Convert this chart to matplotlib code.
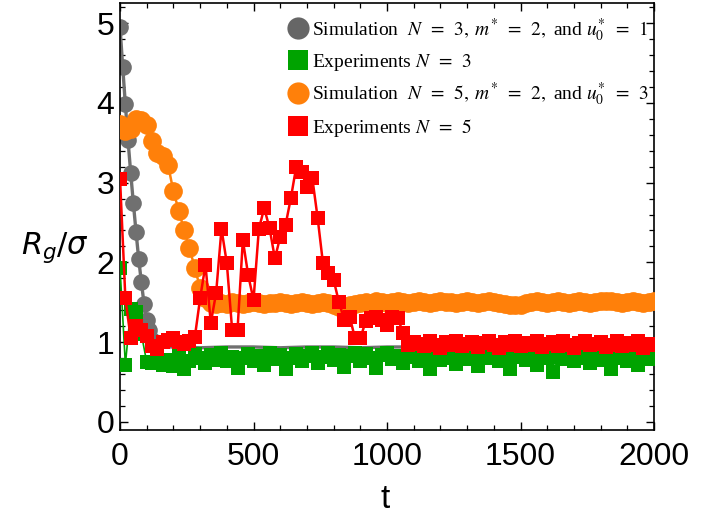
import numpy as np
import matplotlib
matplotlib.use("Agg")
import matplotlib.pyplot as plt
from matplotlib.lines import Line2D
from matplotlib.font_manager import FontProperties
from matplotlib.ticker import MultipleLocator

# --- data ---
# simulation N=3 (markers only on the early decay)
sim3_t = [0, 10, 20, 30, 40, 50, 60, 70, 80, 90, 100, 110, 120, 130,
          150, 200, 300, 400, 500, 600, 700, 800, 900, 1000,
          1100, 1200, 1300, 1400, 1500, 1600, 1700, 1800, 1900, 2000]
sim3_r = [4.95, 4.45, 3.98, 3.53, 3.12, 2.74, 2.38, 2.04, 1.75, 1.48, 1.28, 1.15, 1.03, 0.96,
          0.94, 0.94, 0.93, 0.94, 0.94, 0.93, 0.94, 0.94, 0.93, 0.94,
          0.94, 0.93, 0.94, 0.94, 0.93, 0.94, 0.94, 0.93, 0.94, 0.94]
sim3_marked = 14

# experiments N=3, every 20 time units
exp3_t = np.arange(0, 2001, 20)
exp3_r = [1.93, 0.72, 1.42, 1.38, 1.1, 0.75, 0.74, 0.8, 0.72, 0.78,
          0.7, 0.83, 0.67, 0.77, 0.85, 0.8, 0.74, 0.84, 0.78, 0.86,
          0.76, 0.82, 0.68, 0.8, 0.85, 0.77, 0.83, 0.72, 0.86, 0.79,
          0.84, 0.66, 0.8, 0.85, 0.76, 0.83, 0.87, 0.74, 0.82, 0.86,
          0.78, 0.84, 0.69, 0.83, 0.87, 0.77, 0.85, 0.8, 0.68, 0.84,
          0.86, 0.79, 0.83, 0.74, 0.87, 0.81, 0.76, 0.84, 0.67, 0.82,
          0.78, 0.85, 0.8, 0.73, 0.84, 0.79, 0.86, 0.7, 0.82, 0.8,
          0.84, 0.77, 0.83, 0.66, 0.81, 0.85, 0.78, 0.83, 0.72, 0.84,
          0.8, 0.63, 0.82, 0.79, 0.85, 0.76, 0.83, 0.8, 0.74, 0.84,
          0.78, 0.83, 0.66, 0.8, 0.85, 0.76, 0.83, 0.71, 0.82, 0.79, 0.83]

# simulation N=5, every 20 time units
sim5_t = np.arange(0, 2001, 20)
sim5_r = [3.74, 3.65, 3.67, 3.8, 3.79, 3.72, 3.52, 3.37, 3.33, 3.22,
          2.89, 2.65, 2.4, 2.18, 1.93, 1.68, 1.55, 1.49,
          1.48, 1.49, 1.48, 1.50, 1.49, 1.48, 1.49, 1.50, 1.49, 1.48,
          1.49, 1.49, 1.50, 1.49, 1.48, 1.49, 1.50, 1.49, 1.48, 1.49, 1.50, 1.49,
          1.46, 1.44, 1.45, 1.47, 1.48,
          1.49, 1.50, 1.49, 1.51, 1.50, 1.49, 1.50, 1.51, 1.50, 1.49,
          1.50, 1.51, 1.50, 1.49, 1.50, 1.51, 1.50, 1.50, 1.49, 1.50,
          1.51, 1.50, 1.49, 1.50, 1.51, 1.50, 1.49, 1.48, 1.47, 1.46,
          1.47, 1.49, 1.50, 1.51, 1.50, 1.49, 1.50, 1.51, 1.50, 1.49,
          1.50, 1.51, 1.50, 1.49, 1.50, 1.51, 1.52, 1.51, 1.50, 1.49,
          1.50, 1.51, 1.50, 1.49, 1.50, 1.51]

# experiments N=5, every 20 time units
exp5_t = np.arange(0, 2001, 20)
exp5_r = [3.05, 1.55, 1.05, 1.2, 1.15, 1.08, 0.95, 0.92, 1.0, 1.03,
          1.05, 1.0, 0.98, 1.02, 1.06,
          1.55, 1.97, 1.24, 1.62, 2.42, 1.99, 1.15, 1.15, 2.28, 1.84,
          1.53, 2.42, 2.68, 2.43, 2.05, 2.32, 2.47, 2.81, 3.2, 3.13,
          2.95, 3.06, 2.56, 1.99, 1.87, 1.78,
          1.5, 1.28, 1.32, 1.05, 1.05, 1.26, 1.3, 1.32, 1.28, 1.22,
          1.31, 1.3, 1.12, 0.97, 1.0,
          0.98, 0.95, 1.01, 0.97, 0.93, 1.0, 0.96, 1.02, 0.95, 0.98,
          1.0, 0.94, 0.99, 1.01, 0.96, 0.93, 1.0, 0.97, 1.02, 0.95,
          0.99, 0.96, 1.01, 0.94, 0.98, 1.0, 0.95, 1.02, 0.97, 0.93,
          0.99, 1.01, 0.96, 0.98, 1.0, 0.94, 0.97, 1.02, 0.95, 0.99,
          0.96, 1.01, 0.93, 0.98, 0.97]

labels = [r"Simulation  $N\enspace=\enspace3,\; m^{*}\enspace=\enspace2,$ and $u_0^{*}\enspace=\enspace1$",
          r"Experiments $N\enspace=\enspace3$",
          r"Simulation  $N\enspace=\enspace5,\; m^{*}\enspace=\enspace2,$ and $u_0^{*}\enspace=\enspace3$",
          r"Experiments $N\enspace=\enspace5$"]

gray = "#707070"
green = "#00a300"
orange = "#ff800a"
red = "#ff0000"

tick_font = "Liberation Sans"

plt.rcParams["xtick.direction"] = "in"
plt.rcParams["ytick.direction"] = "in"
plt.rcParams["xtick.top"] = True
plt.rcParams["ytick.right"] = True

fig = plt.figure(figsize=(7.17, 5.18), dpi=100)
ax = fig.add_axes([0.1674, 0.170, 0.7448, 0.824])

ax.plot(sim3_t, sim3_r, "-", color=gray, lw=2.4, marker="o", ms=12, mew=0,
        markevery=list(range(sim3_marked)), zorder=2)
ax.plot(exp3_t, exp3_r, "-", color=green, lw=1.2, marker="s", ms=9.5, mew=0, zorder=3)
ax.plot(sim5_t, sim5_r, "-", color=orange, lw=1.8, marker="o", ms=13.5, mew=0, zorder=4)
ax.plot(exp5_t, exp5_r, "-", color=red, lw=1.8, marker="s", ms=9.5, mew=0, zorder=5)

ax.set_xlim(0, 2000)
ax.set_ylim(-0.1, 5.25)
ax.xaxis.set_major_locator(MultipleLocator(500))
ax.xaxis.set_minor_locator(MultipleLocator(100))
ax.yaxis.set_major_locator(MultipleLocator(1))
ax.yaxis.set_minor_locator(MultipleLocator(0.2))
ax.tick_params(which="major", length=6, width=1)
ax.tick_params(which="minor", length=3.5, width=0.9)
ax.tick_params(axis="x", which="major", pad=9)
ax.tick_params(axis="y", which="major", pad=4)
for lab in ax.get_xticklabels() + ax.get_yticklabels():
    lab.set_fontfamily(tick_font)
    lab.set_fontsize(23)
for s in ax.spines.values():
    s.set_linewidth(1.2)

ax.set_xlabel("t", fontfamily=tick_font, fontsize=24)
ax.xaxis.set_label_coords(0.496, -0.127)
ax.set_ylabel(r"$R_g/\sigma$", fontsize=22, rotation=0, math_fontfamily="dejavusans")
ax.yaxis.set_label_coords(-0.122, 0.386)

handles = [Line2D([], [], ls="none", marker="o", ms=16, mew=0, color="#666666"),
           Line2D([], [], ls="none", marker="s", ms=14, mew=0, color=green),
           Line2D([], [], ls="none", marker="o", ms=16, mew=0, color=orange),
           Line2D([], [], ls="none", marker="s", ms=14, mew=0, color=red)]
prop = FontProperties(family="Liberation Serif", size=14, math_fontfamily="stix")
ax.legend(handles, labels, loc="upper right", bbox_to_anchor=(1.011, 0.997), prop=prop,
          frameon=False, handlelength=1.0, handletextpad=0.2, labelspacing=0.42,
          borderaxespad=0.2)

fig.savefig("out.png", dpi=100)
